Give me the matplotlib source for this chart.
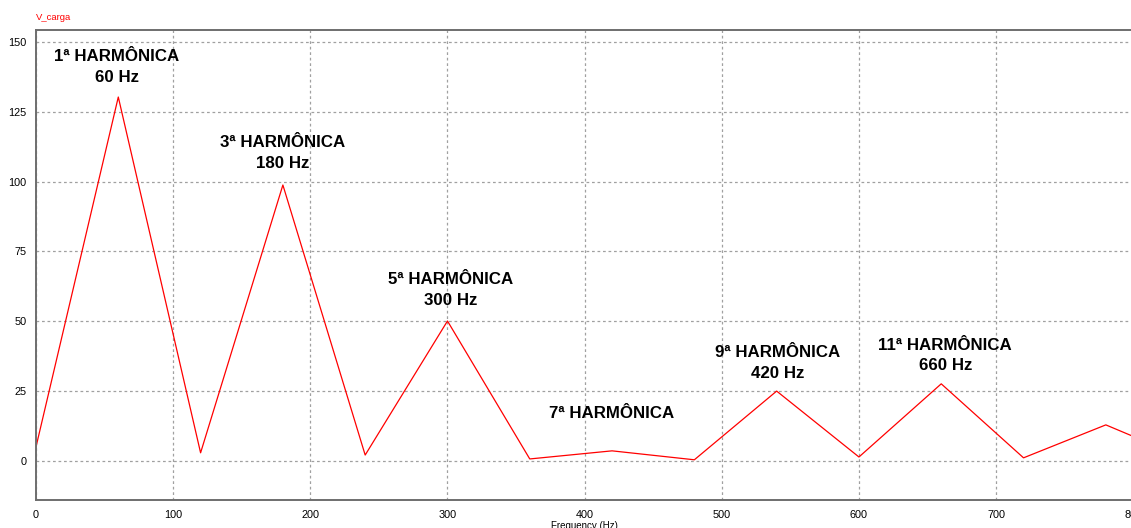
import numpy as np
import matplotlib
matplotlib.use('Agg')
import matplotlib.pyplot as plt

# spectrum of V_carga, one point every 60 Hz
freqs = [0, 60, 120, 180, 240, 300, 360, 420, 480, 540, 600, 660, 720, 780, 840]
amps = [5.0, 130.3, 2.9, 98.8, 2.1, 50.1, 0.7, 3.6, 0.4, 25.0, 1.4, 27.6, 1.1, 12.9, 0.5]

labels = ['1ª HARMÔNICA\n60 Hz', '3ª HARMÔNICA\n180 Hz', '5ª HARMÔNICA\n300 Hz',
          '7ª HARMÔNICA', '9ª HARMÔNICA\n420 Hz', '11ª HARMÔNICA\n660 Hz']
label_x = [59, 180, 302, 420, 541, 663]
label_y = [141, 110.3, 61.2, 16.8, 35.1, 37.8]

xticks = [0, 100, 200, 300, 400, 500, 600, 700, 800]
yticks = [0, 25, 50, 75, 100, 125, 150]

plt.rcParams['font.family'] = ['Liberation Sans', 'DejaVu Sans']

fig = plt.figure(figsize=(11.31, 5.28), dpi=100)
ax = fig.add_axes([36 / 1131, 1 - 500 / 528, 1 - 36 / 1131 + 0.002, 470 / 528])

ax.plot(freqs, amps, color='red', linewidth=0.9)

ax.set_xlim(0, 799.5)
ax.set_ylim(-14, 154.3)
ax.set_xticks(xticks)
ax.set_yticks(yticks)
ax.tick_params(length=0, labelsize=7.8, pad=7)
ax.grid(True, color='#a0a0a0', linestyle=(0, (2.2, 2.2)), linewidth=0.9)

for side in ['left', 'bottom', 'top']:
    ax.spines[side].set_color('#6e6e6e')
    ax.spines[side].set_linewidth(1.4)
ax.spines['right'].set_visible(False)

for txt, x, y in zip(labels, label_x, label_y):
    ax.text(x, y, txt, ha='center', va='center', fontsize=12.2, fontweight='bold',
            linespacing=1.45)

fig.text(36 / 1131, 1 - 18 / 528, 'V_carga', color='red', fontsize=6.8, va='center')
ax.set_xlabel('Frequency (Hz)', fontsize=7, labelpad=1)

fig.savefig('out.png', dpi=100)
